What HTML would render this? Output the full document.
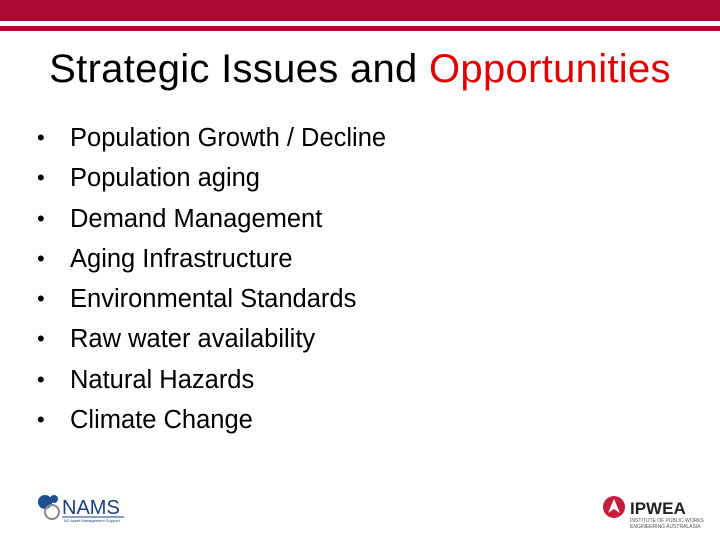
<!DOCTYPE html>
<html><head><meta charset="utf-8"><style>
body{margin:0;width:720px;height:540px;background:#fff;position:relative;overflow:hidden;font-family:"Liberation Sans",sans-serif}
.bar{position:absolute;left:0;width:720px;background:#ae0a36}
h1{position:absolute;top:46px;left:0;width:720px;text-align:center;margin:0;font-size:40px;line-height:46px;font-weight:normal;color:#000;letter-spacing:0.3px}
ul{position:absolute;left:37px;top:122px;margin:0;padding:0;list-style:none}
li{font-size:25.5px;height:40.3px;line-height:32px;position:relative;padding-left:33px;color:#000}
li::before{content:"•";position:absolute;left:0;font-size:22px}
</style></head><body>
<div class="bar" style="top:0;height:21px"></div>
<div class="bar" style="top:26px;height:5px"></div>
<h1>Strategic Issues and <span style="color:#e00000">Opportunities</span></h1>
<ul>
<li>Population Growth / Decline</li>
<li>Population aging</li>
<li>Demand Management</li>
<li>Aging Infrastructure</li>
<li>Environmental Standards</li>
<li>Raw water availability</li>
<li>Natural Hazards</li>
<li>Climate Change</li>
</ul>
<div style="position:absolute;left:36px;top:492px;width:90px;height:32px">
<svg width="90" height="32"><circle cx="9" cy="10" r="7" fill="#1d4e8f"/><circle cx="16" cy="20" r="7" fill="none" stroke="#888" stroke-width="2"/><circle cx="18" cy="7" r="4" fill="#1d4e8f"/>
<text x="26" y="22" font-family="Liberation Sans" font-size="20" fill="#1d3f7a">NAMS</text><line x1="26" y1="25" x2="88" y2="25" stroke="#1d3f7a"/><text x="28" y="30" font-size="4" fill="#1d3f7a">NZ Asset Management Support</text></svg></div>
<div style="position:absolute;left:602px;top:495px;width:110px;height:34px">
<svg width="110" height="34"><circle cx="12" cy="12" r="11" fill="#c41e3a"/><path d="M12 4 L18 18 L12 14 L6 18 Z" fill="#fff"/>
<text x="28" y="19" font-family="Liberation Sans" font-weight="bold" font-size="17" fill="#222">IPWEA</text>
<text x="28" y="27" font-size="5" fill="#555">INSTITUTE OF PUBLIC WORKS</text><text x="28" y="33" font-size="5" fill="#555">ENGINEERING AUSTRALASIA</text></svg></div>
</body></html>
